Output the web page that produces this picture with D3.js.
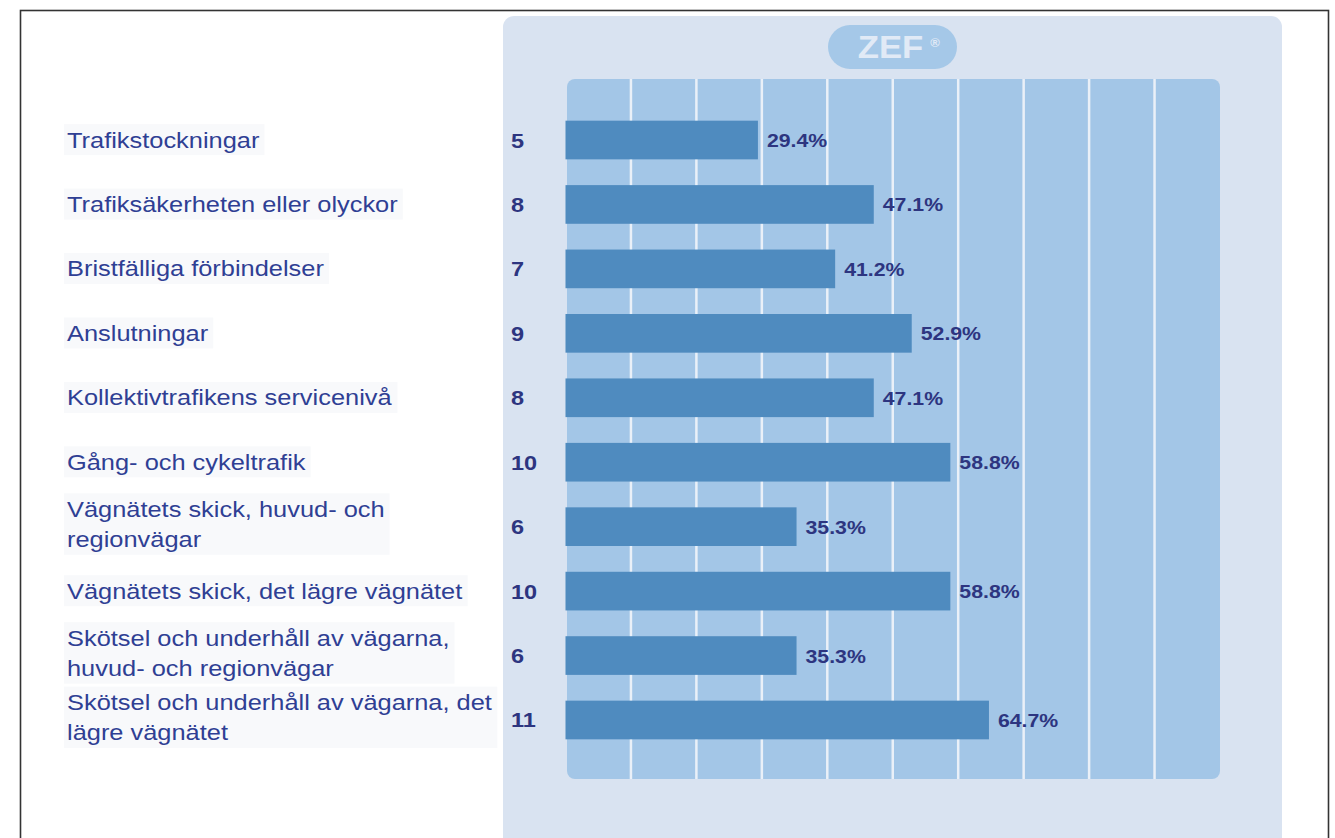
<!DOCTYPE html>
<html>
<head>
<meta charset="utf-8">
<script src="https://cdn.jsdelivr.net/npm/d3@7"></script>
<style>
  html, body { margin: 0; padding: 0; background: #ffffff; }
  svg { display: block; }
  text { font-family: "Liberation Sans", Arial, sans-serif; }
</style>
</head>
<body>
<svg id="chart" width="1335" height="838"></svg>
<script>
// ---- data ----
const categories = [
  ["Trafikstockningar"],
  ["Trafiksäkerheten eller olyckor"],
  ["Bristfälliga förbindelser"],
  ["Anslutningar"],
  ["Kollektivtrafikens servicenivå"],
  ["Gång- och cykeltrafik"],
  ["Vägnätets skick, huvud- och", "regionvägar"],
  ["Vägnätets skick, det lägre vägnätet"],
  ["Skötsel och underhåll av vägarna,", "huvud- och regionvägar"],
  ["Skötsel och underhåll av vägarna, det", "lägre vägnätet"]
];
const counts = [5, 8, 7, 9, 8, 10, 6, 10, 6, 11];
const percents = [29.4, 47.1, 41.2, 52.9, 47.1, 58.8, 35.3, 58.8, 35.3, 64.7];
const gridTicks = [10, 20, 30, 40, 50, 60, 70, 80, 90];
const logoText = "ZEF";

// ---- layout ----
const svg = d3.select("#chart");
const SX = 1.12;   // horizontal stretch of the original picture
const SXL = 1.155; // stretch for category labels

const x = d3.scaleLinear().domain([0, 100]).range([565.5, 1220]);
const y = d3.scaleBand()
  .domain(d3.range(categories.length))
  .range([94.9, 765.1])
  .paddingInner(0.4)
  .paddingOuter(0.4);

// outer frame
svg.append("rect")
  .attr("x", 20.5).attr("y", 10.5)
  .attr("width", 1308).attr("height", 900)
  .attr("fill", "#ffffff")
  .attr("stroke", "#333333").attr("stroke-width", 1.6);

// light panel
svg.append("rect")
  .attr("x", 503).attr("y", 16)
  .attr("width", 779).attr("height", 860)
  .attr("rx", 11).attr("ry", 11)
  .attr("fill", "#d9e3f1");

// logo pill
const logo = svg.append("g");
logo.append("rect")
  .attr("x", 828).attr("y", 25)
  .attr("width", 129).attr("height", 44)
  .attr("rx", 22).attr("ry", 22)
  .attr("fill", "#a5c8e8");
logo.append("text")
  .attr("transform", "translate(890.5,57.5) scale(" + SX + ",1)")
  .attr("text-anchor", "middle")
  .attr("font-size", 31).attr("font-weight", "bold")
  .attr("fill", "#e1eaf6")
  .text(logoText);
logo.append("text")
  .attr("x", 935).attr("y", 47)
  .attr("text-anchor", "middle")
  .attr("font-size", 13).attr("font-weight", "bold")
  .attr("fill", "#e1eaf6")
  .text("®");

// inner plot area
svg.append("rect")
  .attr("x", 567).attr("y", 79)
  .attr("width", x(100) - 567).attr("height", 700)
  .attr("rx", 8).attr("ry", 8)
  .attr("fill", "#a3c6e7");

// vertical gridlines
svg.append("g").selectAll("line")
  .data(gridTicks)
  .join("line")
  .attr("x1", d => x(d)).attr("x2", d => x(d))
  .attr("y1", 79).attr("y2", 779)
  .attr("stroke", "#eaf0f8").attr("stroke-width", 2.5);

// category labels (with faint background boxes)
const rowCenter = i => y(i) + y.bandwidth() / 2;
const labelG = svg.append("g");
categories.forEach((lines, i) => {
  const c = rowCenter(i);
  const g = labelG.append("g");
  const bg = g.append("rect").attr("fill", "#f8f9fb");
  const t = g.append("text")
    .attr("transform", "translate(67," + c + ") scale(" + SXL + ",1)")
    .attr("font-size", 22)
    .attr("fill", "#2f3f94");
  if (lines.length === 1) {
    t.append("tspan").attr("x", 0).attr("y", 7.5).text(lines[0]);
  } else {
    t.append("tspan").attr("x", 0).attr("y", -10).text(lines[0]);
    t.append("tspan").attr("x", 0).attr("y", 20.5).text(lines[1]);
  }
  const bb = t.node().getBBox();
  bg.attr("x", 64).attr("y", c + bb.y - 3)
    .attr("width", bb.width * SXL + 8).attr("height", bb.height + 6);
});

// bars
svg.append("g").selectAll("rect")
  .data(percents)
  .join("rect")
  .attr("x", x(0))
  .attr("y", (d, i) => y(i))
  .attr("width", d => x(d) - x(0))
  .attr("height", y.bandwidth())
  .attr("fill", "#4f8bbf");

// count labels
svg.append("g").selectAll("text")
  .data(counts)
  .join("text")
  .attr("transform", (d, i) => "translate(511," + (rowCenter(i) + 7.5) + ") scale(" + SX + ",1)")
  .attr("font-size", 21).attr("font-weight", "bold")
  .attr("fill", "#2d3580")
  .text(d => d);

// percent labels
svg.append("g").selectAll("text")
  .data(percents)
  .join("text")
  .attr("transform", (d, i) => "translate(" + (x(d) + 9) + "," + (rowCenter(i) + 7) + ") scale(" + SX + ",1)")
  .attr("font-size", 19).attr("font-weight", "bold")
  .attr("fill", "#2d3580")
  .text(d => d.toFixed(1) + "%");
</script>
</body>
</html>
